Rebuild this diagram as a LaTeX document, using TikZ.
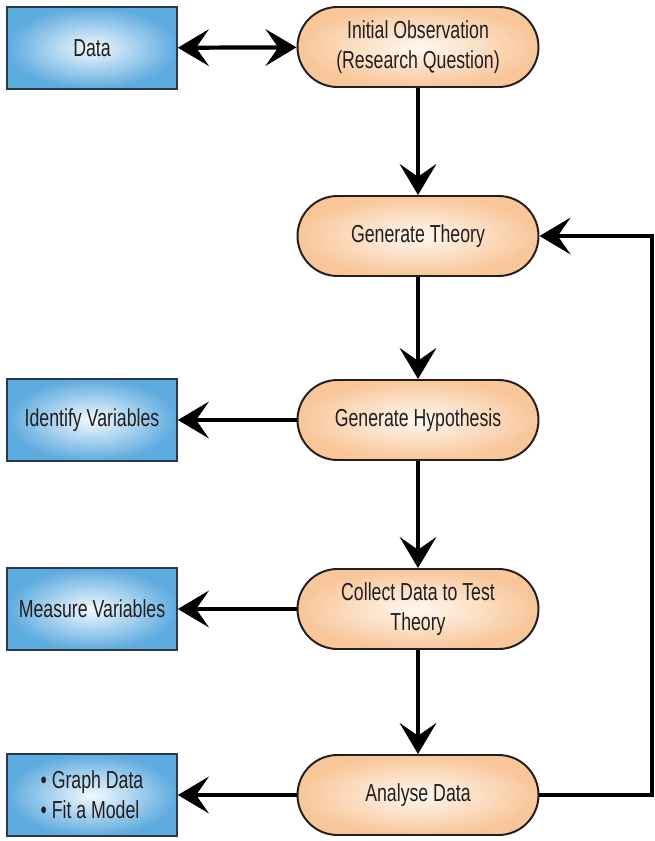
\documentclass[tikz,border=0pt]{standalone}
\usepackage{fontspec}
\setmainfont{Liberation Sans}[FakeStretch=0.72]
\usetikzlibrary{arrows.meta}

\definecolor{peachout}{HTML}{F8C699}
\definecolor{peachin}{HTML}{FFF8F2}
\definecolor{skyout}{HTML}{5EABDF}
\definecolor{skyin}{HTML}{F2F9FE}
\definecolor{boxline}{HTML}{2B3A4A}
\definecolor{ink}{HTML}{231F20}

\begin{document}
\begin{tikzpicture}[x=0.025cm,y=-0.025cm,
    font=\fontsize{17.5}{21.5}\selectfont, text=ink,
    bigtip/.tip={Stealth[length=22pt,width=26pt,inset=9pt]}]

      \useasboundingbox (0,0) rectangle (655,841);

      % steps of the method
      \begin{scope}[every node/.style={draw=ink, line width=1.4pt,
          rounded corners=40*0.025cm, minimum width=241*0.025cm,
          minimum height=80*0.025cm, align=center, shading=radial,
          inner color=peachin, outer color=peachout}]
        \node (1) at (418,47)  {Initial Observation\\(Research Question)};
        \node (2) at (418,236) {Generate Theory};
        \node (3) at (418,420) {Generate Hypothesis};
        \node (4) at (418,609) {Collect Data to Test\\Theory};
        \node (5) at (418,795) {Analyse Data};
      \end{scope}

      % side boxes
      \begin{scope}[every node/.style={draw=boxline, line width=1.2pt,
          minimum width=170*0.025cm, minimum height=82*0.025cm,
          shading=radial, inner color=skyin, outer color=skyout}]
        \node (6) at (92,48)  {Data};
        \node (7) at (92,420) {Identify Variables};
        \node (8) at (92,609) {Measure Variables};
        \node[align=left] (9) at (92,795) {\textbullet\ Graph Data\\\textbullet\ Fit a Model};
      \end{scope}

      \coordinate (c) at (652,795);

      \begin{scope}[every edge/.style={draw, line width=3pt, -bigtip}]
        \path (1) edge[bigtip-bigtip] (6);
        \path (1) edge (2);
        \path (2) edge (3);
        \path (3) edge (4);
        \path (4) edge (5);
        \path (3) edge (7);
        \path (4) edge (8);
        \path (5) edge (9);
      \end{scope}

      \draw[line width=3.5pt, -bigtip] (5.east) -- (c) |- (2.east);

    \end{tikzpicture}
\end{document}
